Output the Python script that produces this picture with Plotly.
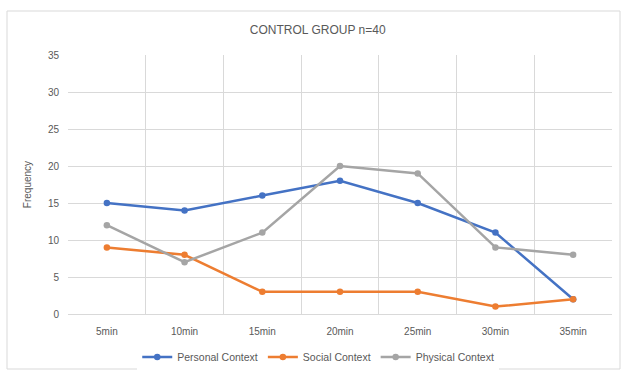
import plotly.graph_objects as go

categories = ["5min", "10min", "15min", "20min", "25min", "30min", "35min"]
personal = [15, 14, 16, 18, 15, 11, 2]
social = [9, 8, 3, 3, 3, 1, 2]
physical = [12, 7, 11, 20, 19, 9, 8]

series = [
    ("Personal Context", personal, "#4472C4"),
    ("Social Context", social, "#ED7D31"),
    ("Physical Context", physical, "#A5A5A5"),
]

fig = go.Figure()
for name, vals, col in series:
    fig.add_trace(go.Scatter(
        x=categories, y=vals, name=name, mode="lines+markers",
        line=dict(color=col, width=2.5),
        marker=dict(color=col, size=6.5, symbol="circle"),
    ))

font_family = "Liberation Sans, Arial, sans-serif"
W, H = 623, 371
L, R, T, B = 68, 11, 55, 57
pw, ph = W - L - R, H - T - B

fig.update_layout(
    width=W, height=H,
    margin=dict(l=L, r=R, t=T, b=B, autoexpand=False),
    paper_bgcolor="white", plot_bgcolor="white",
    font=dict(family=font_family, size=10, color="#595959"),
    title=dict(text="CONTROL GROUP n=40", x=0.51, xanchor="center",
               y=1 - 30 / H, yanchor="middle",
               font=dict(size=12, color="#595959")),
    showlegend=True,
    legend=dict(orientation="h", x=0.46, xanchor="center",
                yref="container", y=1 - 357 / H, yanchor="middle",
                font=dict(size=10.5, color="#595959"),
                traceorder="normal"),
    xaxis=dict(type="category", tickson="boundaries", showgrid=True,
               range=[-0.5, len(categories) - 0.5],
               gridcolor="#D9D9D9", gridwidth=1, ticks="", showline=True,
               linecolor="#D9D9D9", automargin=False, ticklabelstandoff=8,
               tickfont=dict(size=10, color="#595959")),
    yaxis=dict(range=[0, 35], dtick=5, showgrid=True, gridcolor="#D9D9D9",
               gridwidth=1, zeroline=True, zerolinecolor="#D9D9D9", ticks="",
               automargin=False, ticklabelstandoff=8,
               tickfont=dict(size=10, color="#595959"),
               title=dict(text="Frequency", font=dict(size=10, color="#595959"),
                          standoff=14)),
    shapes=[dict(type="rect", xref="paper", yref="paper",
                 x0=-61 / pw, x1=1 + 8 / pw, y0=-55 / ph, y1=1 + 44 / ph,
                 line=dict(color="#D9D9D9", width=1), fillcolor="rgba(0,0,0,0)",
                 layer="below")],
)

fig.write_html("out.html")
